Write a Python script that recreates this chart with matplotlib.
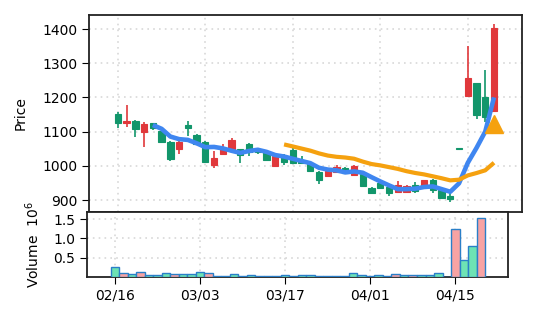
import matplotlib
matplotlib.use("Agg")
import matplotlib.pyplot as plt
import numpy as np
import pandas as pd

# ---- data ----
opens = [1151, 1124, 1131, 1098, 1124, 1103, 1070, 1048, 1119, 1090,
         1069, 1002, 1036, 1048, 1048, 1065, 1045, 1040, 999, 1027,
         1046, 1012, 1004, 981, 970, 983, 994, 973, 975, 936,
         951, 939, 924, 924, 944, 942, 960, 929, 912, 1050,
         1205, 1241, 1202, 1161]
closes = [1124, 1132, 1107, 1121, 1112, 1069, 1019, 1069, 1110, 1063,
          1012, 1022, 1048, 1075, 1032, 1040, 1040, 1017, 1028, 1011,
          1007, 1008, 985, 960, 985, 996, 978, 999, 941, 920,
          934, 920, 944, 941, 927, 958, 929, 905, 902, 1050,
          1257, 1148, 1144, 1402]
highs = [1157, 1178, 1134, 1127, 1126, 1110, 1072, 1072, 1131, 1094,
         1072, 1043, 1063, 1082, 1050, 1068, 1051, 1046, 1032, 1035,
         1051, 1028, 1011, 985, 988, 1002, 997, 1001, 977, 938,
         957, 942, 957, 945, 952, 960, 962, 931, 920, 1050,
         1350, 1243, 1280, 1415]
lows = [1110, 1114, 1085, 1056, 1105, 1066, 1015, 1035, 1088, 1060,
        1010, 993, 1036, 1046, 1007, 1030, 1034, 1014, 997, 1003,
        1005, 1004, 983, 948, 968, 981, 975, 971, 937, 918,
        932, 913, 922, 922, 921, 940, 921, 903, 893, 1050,
        1202, 1136, 1129, 1160]
volumes = [0.245, 0.088, 0.06, 0.114, 0.044, 0.044, 0.088, 0.06, 0.06, 0.06,
           0.114, 0.088, 0.008, 0.008, 0.06, 0.008, 0.035, 0.008, 0.008, 0.008,
           0.035, 0.008, 0.035, 0.035, 0.008, 0.008, 0.008, 0.008, 0.088, 0.044,
           0.008, 0.035, 0.008, 0.06, 0.035, 0.035, 0.035, 0.035, 0.088, 0.0,
           1.25, 0.43, 0.807, 1.535]
tick_positions = [0, 10, 20, 30, 40]
tick_labels = ["02/16", "03/03", "03/17", "04/01", "04/15"]
signal_index = [43]
signal_price = [1123]

UP = "#e0383b"
DOWN = "#12966b"
VOL_UP = "#f7a3a3"
VOL_DOWN = "#6ee3b4"

df = pd.DataFrame({"open": opens, "close": closes, "high": highs, "low": lows,
                   "volume": volumes})
df["ma5"] = df["close"].rolling(5).mean()
df["ma20"] = df["close"].rolling(20).mean()
x = np.arange(len(df))
up = df["close"] > df["open"]

fig = plt.figure(figsize=(5.37, 3.22), dpi=100)
ax = fig.add_axes([89 / 537, 1 - 212 / 322, (522 - 89) / 537, (212 - 15) / 322])
axv = fig.add_axes([87 / 537, 1 - 276.7 / 322, (508 - 87) / 537, (276.7 - 212) / 322])

colors = np.where(up, UP, DOWN)
ax.vlines(x, df["low"], df["high"], colors=colors, lw=1.2, zorder=2)
body_bottom = np.minimum(df["open"], df["close"])
body_h = np.maximum(np.abs(df["close"] - df["open"]), 3)
ax.bar(x, body_h, bottom=body_bottom, width=0.72, color=colors,
       edgecolor=colors, linewidth=0.8, zorder=3)
ax.plot(x, df["ma5"], color="#3f86f0", lw=3.3, zorder=4, solid_capstyle="butt")
ax.plot(x, df["ma20"], color="#f5a10f", lw=3.0, zorder=4, solid_capstyle="butt")
ax.plot(signal_index, signal_price, marker="^", ms=13, color="#f5a10f",
        linestyle="none", zorder=5)

ax.set_xlim(-3.3, 46.2)
ax.set_ylim(865, 1441)
ax.set_yticks([900, 1000, 1100, 1200, 1300, 1400])
ax.set_xticks(tick_positions)
ax.tick_params(axis="x", bottom=False, labelbottom=False)
ax.tick_params(axis="y", labelsize=10, length=5)
ax.set_ylabel("Price", fontsize=10, labelpad=10)
ax.grid(True, linestyle=(0, (1, 2.5)), color="#d8d8d8", lw=1.2)
ax.set_axisbelow(True)

vcolors = np.where(up, VOL_UP, VOL_DOWN)
axv.bar(x, df["volume"], width=1.0, color=vcolors, edgecolor="#2a7fc8",
        linewidth=1.0, zorder=3)
axv.set_xlim(-3.3, 46.2)
axv.set_ylim(0, df["volume"].max() * 1.1)
axv.set_yticks([0.5, 1.0, 1.5])
axv.set_yticklabels(["0.5", "1.0", "1.5"])
axv.set_xticks(tick_positions)
axv.set_xticklabels(tick_labels)
axv.tick_params(labelsize=10, length=5)
axv.set_ylabel("Volume  $10^6$", fontsize=10, labelpad=8)
axv.grid(True, linestyle=(0, (1, 2.5)), color="#d8d8d8", lw=1.2)
axv.set_axisbelow(True)

for a in (ax, axv):
    for s in a.spines.values():
        s.set_linewidth(1.3)
        s.set_color("#222222")

fig.savefig("out.png", dpi=100)
